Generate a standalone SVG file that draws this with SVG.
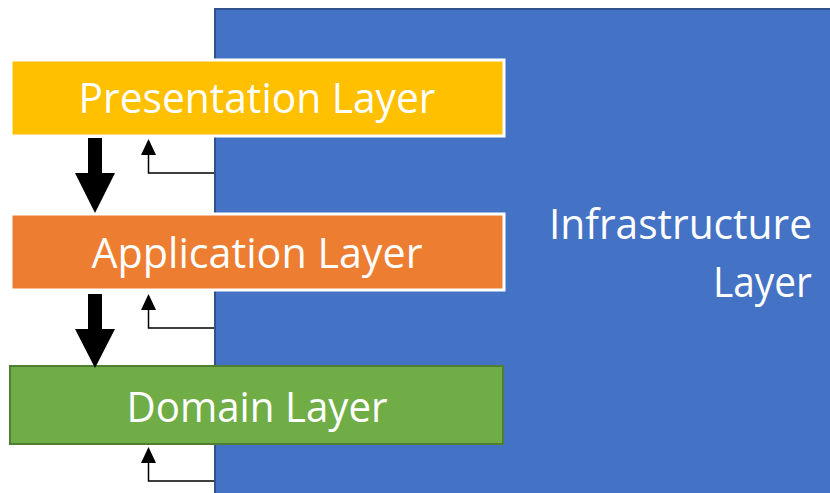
<svg xmlns="http://www.w3.org/2000/svg" width="830" height="493" viewBox="0 0 830 493">
  <style>
    .label { font-family: "Open Sans", "Noto Sans", "Liberation Sans", sans-serif; font-size: 42px; fill: #FFFFFF; }
    .thin { fill: none; stroke: #000000; stroke-width: 1.5; marker-end: url(#tri); }
    .bold { fill: #000000; }
  </style>
  <defs>
    <!-- small solid triangle for the thin feedback lines -->
    <marker id="tri" viewBox="0 0 16 15" refX="1" refY="7.5" markerWidth="16" markerHeight="15" markerUnits="userSpaceOnUse" orient="auto">
      <path d="M0,0 L16,7.5 L0,15 Z" fill="#000000"/>
    </marker>
  </defs>

  <rect width="830" height="493" fill="#FFFFFF"/>

  <!-- infrastructure layer spans the right side -->
  <g id="infrastructure">
    <rect x="215" y="9" width="620" height="490" fill="#4472C4" stroke="#2F528F" stroke-width="2"/>
    <text class="label" text-anchor="end" x="812" y="239" textLength="263" lengthAdjust="spacingAndGlyphs">Infrastructure</text>
    <text class="label" text-anchor="end" x="812" y="297" textLength="99" lengthAdjust="spacingAndGlyphs">Layer</text>
  </g>

  <g id="presentation">
    <rect x="11" y="60" width="493" height="76" fill="#FFC000" stroke="#FFFFFF" stroke-width="3"/>
    <text class="label" text-anchor="middle" x="257" y="113" textLength="357" lengthAdjust="spacingAndGlyphs">Presentation Layer</text>
  </g>

  <g id="application">
    <rect x="11" y="214" width="493" height="76" fill="#ED7D31" stroke="#FFFFFF" stroke-width="3"/>
    <text class="label" text-anchor="middle" x="257" y="268" textLength="331" lengthAdjust="spacingAndGlyphs">Application Layer</text>
  </g>

  <g id="domain">
    <rect x="10" y="366" width="493" height="78" fill="#70AD47" stroke="#507E32" stroke-width="2"/>
    <text class="label" text-anchor="middle" x="257" y="422" textLength="261" lengthAdjust="spacingAndGlyphs">Domain Layer</text>
  </g>

  <g id="connectors">
    <!-- downward dependency arrows -->
    <path class="bold" d="M88,138 L102,138 L102,173 L115,173 L95,213 L75,173 L88,173 Z"/>
    <path class="bold" d="M88,294 L102,294 L102,329 L115,329 L95,368 L75,329 L88,329 Z"/>
    <!-- infrastructure feedback lines -->
    <path class="thin" d="M214,173 L148.5,173 L148.5,154"/>
    <path class="thin" d="M214,328 L148.5,328 L148.5,309"/>
    <path class="thin" d="M214,481 L148.5,481 L148.5,462"/>
  </g>
</svg>
